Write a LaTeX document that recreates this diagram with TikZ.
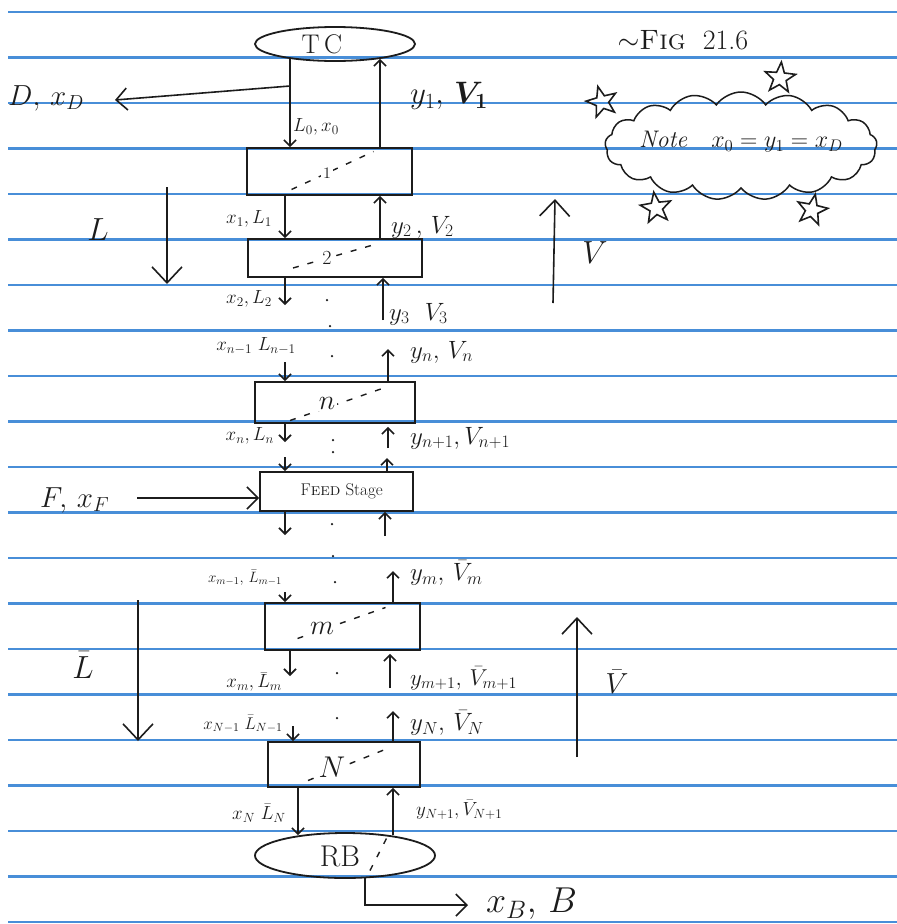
\RequirePackage{fix-cm}
\documentclass[tikz,border=0pt]{standalone}
\usepackage{amsmath}
\usetikzlibrary{arrows.meta,calc,shapes.geometric,shapes.symbols}
\definecolor{rulecol}{RGB}{72,142,216}
\definecolor{ink}{RGB}{28,28,28}
\begin{document}
\begin{tikzpicture}[x=1pt,y=-1pt,
  stage/.style={draw=ink, line width=1.8pt, rectangle, inner sep=0pt},
  vessel/.style={draw=ink, line width=1.8pt, ellipse, inner sep=0pt, text=ink},
  flow/.style={draw=ink, line width=1.6pt, -{Straight Barb[length=6pt,width=12pt,line width=1.6pt]}},
  bigflow/.style={draw=ink, line width=1.6pt, -{Straight Barb[length=16pt,width=30pt,line width=1.6pt]}},
  midflow/.style={draw=ink, line width=1.6pt, -{Straight Barb[length=11pt,width=22pt,line width=1.6pt]}},
  small/.style={font=\fontsize{19}{21}\selectfont, text=ink, inner sep=0pt},
  med/.style={font=\fontsize{25}{28}\selectfont, text=ink, inner sep=0pt},
  large/.style={font=\fontsize{29}{33}\selectfont, text=ink, inner sep=0pt},
  huge/.style={font=\fontsize{32}{36}\selectfont, text=ink, inner sep=0pt},
  stagelabel/.style={font=\fontsize{20}{22}\selectfont, text=ink, fill=white, inner sep=2pt},
  inside/.style={dash pattern=on 6pt off 9pt, line width=1.4pt, draw=ink},
  starmark/.style={star, star points=5, star point ratio=2.4, draw=ink, line width=1.6pt, minimum size=32pt, inner sep=0pt},
  dotmark/.style={circle, fill=ink, inner sep=0pt, minimum size=2.5pt},
]
\useasboundingbox (0,0) rectangle (897,924);
\fill[white] (0,0) rectangle (897,924);

% ruled paper
\foreach \k in {0,...,20}
  \draw[rulecol, line width=2.6pt] (8,{12+45.5*\k}) -- (897,{12+45.5*\k});

% ---------- vessels and stages ----------
\node[vessel, minimum width=160pt, minimum height=34pt, font=\fontsize{27}{29}\selectfont] (TC) at (335,44) {T\,C\rule{26pt}{0pt}};
\node[stage, minimum width=165pt, minimum height=47pt] (s1) at (329.5,171.5) {};
\node[stage, minimum width=174pt, minimum height=38pt] (s2) at (335,258) {};
\node[stage, minimum width=160pt, minimum height=41pt] (sn) at (335,402.5) {};
\node[stage, minimum width=153pt, minimum height=39pt, font=\fontsize{17}{19}\selectfont, text=ink] (feed) at (336.5,491.5) {\ \ F\textsc{eed} Stage};
\node[stage, minimum width=155pt, minimum height=47pt] (sm) at (342.5,626.5) {};
\node[stage, minimum width=152pt, minimum height=45pt] (sN) at (344,764.5) {};
\node[vessel, minimum width=180pt, minimum height=45pt] (RB) at (345,855.5) {};

% dashed diagonals inside stages
\draw[inside] ([shift={(-38,18)}]s1.center) -- ([shift={(44,-20)}]s1.center);
\draw[inside] ([shift={(-42,10)}]s2.center) -- ([shift={(38,-13)}]s2.center);
\draw[inside] ([shift={(-45,18)}]sn.center) -- ([shift={(53,-16)}]sn.center);
\draw[inside] ([shift={(-45,12)}]sm.center) -- ([shift={(43,-19)}]sm.center);
\draw[inside] ([shift={(-36,16)}]sN.center) -- ([shift={(41,-15)}]sN.center);
\draw[inside] ([shift={(25,15)}]RB.center) -- ([shift={(43,-20)}]RB.center);

\node[stagelabel, font=\fontsize{16}{18}\selectfont] (l1) at (327,173) {$1$};
\node[stagelabel] (l2) at (327,258) {$2$};
\node[stagelabel, font=\fontsize{28}{30}\selectfont] (ln) at (327,403) {$n$};
\node[stagelabel, font=\fontsize{28}{30}\selectfont] (lm) at (322,628) {$m$};
\node[stagelabel, font=\fontsize{30}{32}\selectfont] (lN) at (332,767) {$N$};
\node[stagelabel, font=\fontsize{30}{32}\selectfont] (lRB) at (340,856) {RB};

% ---------- top: condenser ----------
\coordinate (cTL) at (290,0);
\coordinate (cTR) at (380,0);
\draw[flow] ($(TC.south -| cTL)+(0,-3)$) -- (s1.north -| cTL);
\draw[flow] (s1.north -| cTR) -- ($(TC.south -| cTR)+(0,-3)$);
\coordinate (Dj) at (290,86);
\coordinate (Dend) at (115,100);
\draw[midflow] (Dj) -- (Dend);
\node[large, anchor=west] (Dlab) at (8,98) {$D,\, x_D$};
\node[large, anchor=west, font=\fontsize{31}{34}\selectfont] (y1lab) at (410,96) {$y_1,\, \boldsymbol{V_1}$};
\node[small, anchor=west] (L0lab) at (293,127) {$L_0, x_0$};

% ---------- stage 1 -> 2 ----------
\coordinate (c1L) at (285,0);
\coordinate (c1R) at (380,0);
\draw[flow] (s1.south -| c1L) -- (s2.north -| c1L);
\draw[flow] (s2.north -| c1R) -- (s1.south -| c1R);
\node[small, anchor=east] (x1lab) at (272,219) {$x_1, L_1$};
\node[med, anchor=west] (y2lab) at (391,227) {$y_2\,,\, V_2$};

\coordinate (x2end) at (285,305);
\draw[flow] (s2.south -| x2end) -- (x2end);
\coordinate (y3s) at (383,320);
\draw[flow] (y3s) -- (s2.south -| y3s);
\node[small, anchor=east] (x2lab) at (272,299) {$x_2, L_2$};
\node[med, anchor=west] (y3lab) at (389,314) {$y_3\ \ V_3$};

% ---------- stage n ----------
\coordinate (xn1s) at (285,362);
\draw[flow] (xn1s) -- (sn.north -| xn1s);
\coordinate (ynend) at (388,349);
\draw[flow] (sn.north -| ynend) -- (ynend);
\node[small, anchor=center] (xn1lab) at (256,346) {$x_{n-1}\ L_{n-1}$};
\node[med, anchor=west] (ynlab) at (410,352) {$y_n,\, V_n$};
\coordinate (xnend) at (285,442);
\draw[flow] (sn.south -| xnend) -- (xnend);
\coordinate (yn1s) at (388,448);
\draw[flow] (yn1s) -- ($(sn.south -| yn1s)+(0,3)$);
\node[small, anchor=east] (xnlab) at (274,436) {$x_n, L_n$};
\node[med, anchor=west] (yn1lab) at (410,438) {$y_{n+1}, V_{n+1}$};

% ---------- feed stage ----------
\coordinate (fdin) at (285,457);
\draw[flow] (fdin) -- (feed.north -| fdin);
\coordinate (fdup) at (387,458);
\draw[flow] (feed.north -| fdup) -- (fdup);
\coordinate (fdout) at (285,535);
\draw[flow] (feed.south -| fdout) -- (fdout);
\coordinate (fdupin) at (385,536);
\draw[flow] (fdupin) -- (feed.south -| fdupin);
\coordinate (Fs) at (137,498);
\draw[midflow] (Fs) -- (feed.west |- Fs);
\node[large, anchor=west] (Flab) at (40,500) {$F,\, x_F$};

% ---------- stage m ----------
\coordinate (xm1s) at (285,592);
\draw[flow] (xm1s) -- (sm.north -| xm1s);
\coordinate (ymend) at (393,571);
\draw[flow] (sm.north -| ymend) -- (ymend);
\node[small, anchor=east, font=\fontsize{15}{17}\selectfont] (xm1lab) at (282,578) {$x_{m-1},\, \bar{L}_{m-1}$};
\node[med, anchor=west] (ymlab) at (410,573) {$y_m,\, \bar{V}_m$};
\coordinate (xmend) at (290,676);
\draw[flow] (sm.south -| xmend) -- (xmend);
\coordinate (ym1s) at (390,688);
\draw[flow] (ym1s) -- ($(sm.south -| ym1s)+(0,3)$);
\node[small, anchor=east] (xmlab) at (282,682) {$x_m, \bar{L}_m$};
\node[med, anchor=west, font=\fontsize{23}{26}\selectfont] (ym1lab) at (410,678) {$y_{m+1},\, \bar{V}_{m+1}$};

% ---------- stage N ----------
\coordinate (xN1s) at (293,726);
\draw[flow] (xN1s) -- (sN.north -| xN1s);
\coordinate (yNend) at (393,711);
\draw[flow] (sN.north -| yNend) -- (yNend);
\node[small, anchor=center, font=\fontsize{17}{19}\selectfont] (xN1lab) at (243,724) {$x_{N-1}\ \bar{L}_{N-1}$};
\node[med, anchor=west] (yNlab) at (410,723) {$y_N,\, \bar{V}_N$};
\coordinate (cNL) at (298,0);
\coordinate (cNR) at (393,0);
\draw[flow] (sN.south -| cNL) -- ($(RB.north -| cNL)+(0,3)$);
\draw[flow] ($(RB.north -| cNR)+(0,3)$) -- (sN.south -| cNR);
\node[small, anchor=east] (xNlab) at (286,813) {$x_N\ \bar{L}_N$};
\node[small, anchor=west] (yN1lab) at (416,810) {$y_{N+1}, \bar{V}_{N+1}$};

% ---------- reboiler bottoms ----------
\coordinate (cB) at (365,905);
\coordinate (Bend) at (468,905);
\draw[midflow] ($(RB.south -| cB)+(0,-1)$) -- (cB) -- (Bend);
\node[large, anchor=west, font=\fontsize{36}{40}\selectfont] (Blab) at (486,904) {$x_B,\, B$};

% ---------- overall flow arrows ----------
\coordinate (Ls) at (167,187);
\coordinate (Le) at (167,284);
\draw[bigflow] (Ls) -- (Le);
\node[huge] (Llab) at (98,230) {$L$};
\coordinate (Vs) at (553,303);
\coordinate (Ve) at (555,199);
\draw[bigflow] (Vs) -- (Ve);
\node[huge] (Vlab) at (595,253) {$V$};
\coordinate (Lbs) at (138,600);
\coordinate (Lbe) at (138,741);
\draw[bigflow] (Lbs) -- (Lbe);
\node[huge] (Lblab) at (83,665) {$\bar{L}$};
\coordinate (Vbs) at (577,757);
\coordinate (Vbe) at (577,617);
\draw[bigflow] (Vbs) -- (Vbe);
\node[large] (Vblab) at (617,682) {$\bar{V}$};

% dots between stages
\foreach \p in {(327,300),(330,326),(332,356),(333,440),(333,452),(332,524),(333,556),(335,582),(337,673),(337,718)}
  \node[dotmark] at \p {};

% ---------- note cloud ----------
\node[font=\fontsize{28}{32}\selectfont, text=ink] (fig) at (683,40) {$\sim$\textsc{Fig}\ \ 21.6};
\node[cloud, draw=ink, line width=1.5pt, cloud puffs=17, cloud puff arc=110, aspect=2.5,
      minimum width=272pt, minimum height=108pt, inner sep=0pt] (note) at (741,146) {};
\node[font=\fontsize{24}{28}\selectfont, text=ink] (notetext) at (741,142) {\textit{Note}\quad $x_0 = y_1 = x_D$};
\node[starmark, rotate=15] (st1) at (602,102) {};
\node[starmark, rotate=-5] (st2) at (780,78) {};
\node[starmark, rotate=8] (st3) at (656,208) {};
\node[starmark, rotate=-12] (st4) at (812,210) {};
\end{tikzpicture}
\end{document}
